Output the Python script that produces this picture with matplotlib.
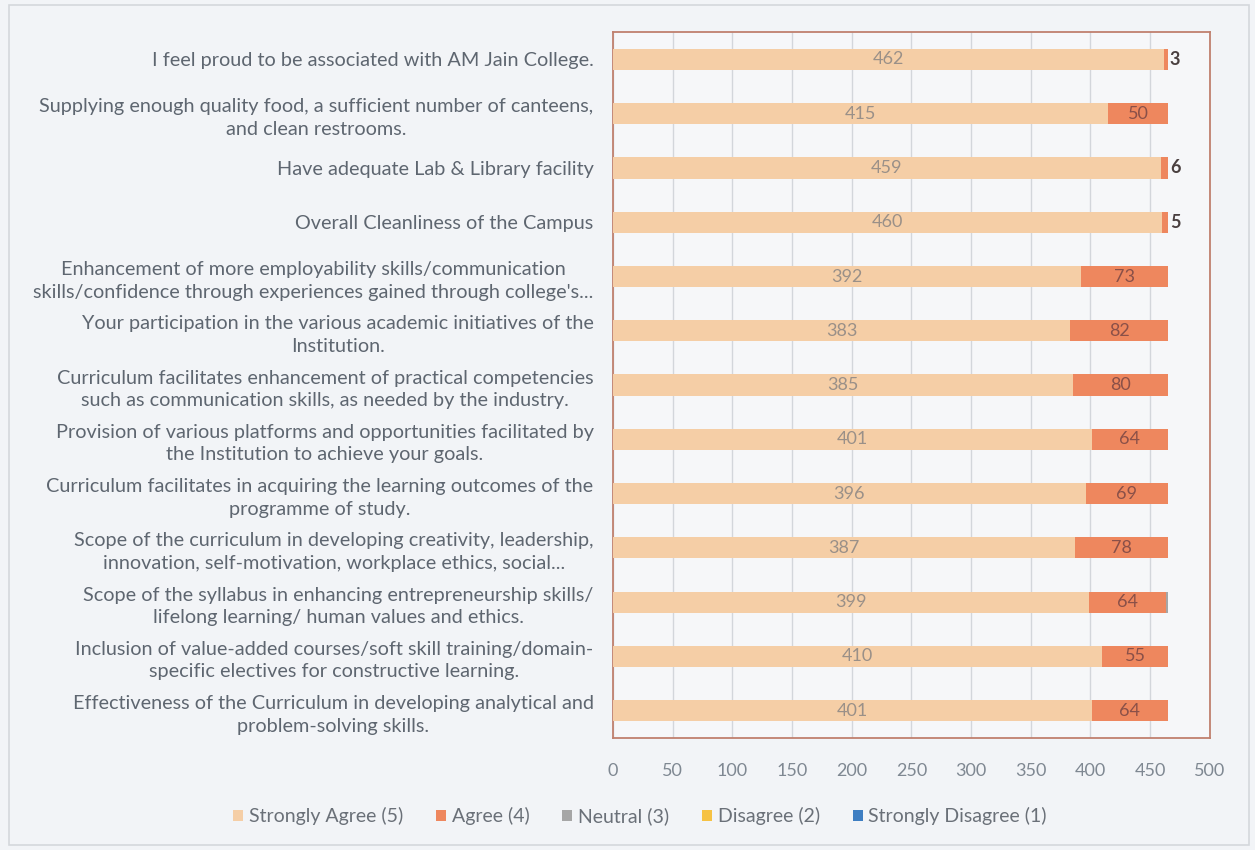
import matplotlib
matplotlib.use("Agg")
import matplotlib.pyplot as plt
from matplotlib.patches import Rectangle
import numpy as np

plt.rcParams['font.family'] = ['Lato', 'DejaVu Sans']

categories = [
    "I feel proud to be associated with AM Jain College.",
    "Supplying enough quality food, a sufficient number of canteens,\nand clean restrooms.",
    "Have adequate Lab & Library facility",
    "Overall Cleanliness of the Campus",
    "Enhancement of more employability skills/communication\nskills/confidence through experiences gained through college's...",
    "Your participation in the various academic initiatives of the\nInstitution.",
    "Curriculum facilitates enhancement of practical competencies\nsuch as communication skills, as needed by the industry.",
    "Provision of various platforms and opportunities facilitated by\nthe Institution to achieve your goals.",
    "Curriculum facilitates in acquiring the learning outcomes of the\nprogramme of study.",
    "Scope of the curriculum in developing creativity, leadership,\ninnovation, self-motivation, workplace ethics, social...",
    "Scope of the syllabus in enhancing entrepreneurship skills/\nlifelong learning/ human values and ethics.",
    "Inclusion of value-added courses/soft skill training/domain-\nspecific electives for constructive learning.",
    "Effectiveness of the Curriculum in developing analytical and\nproblem-solving skills.",
]
strongly_agree = [462, 415, 459, 460, 392, 383, 385, 401, 396, 387, 399, 410, 401]
agree = [3, 50, 6, 5, 73, 82, 80, 64, 69, 78, 64, 55, 64]
neutral = [0, 0, 0, 0, 0, 0, 0, 0, 0, 0, 2, 0, 0]
disagree = [0] * 13
strongly_disagree = [0] * 13
series_names = ["Strongly Agree (5)", "Agree (4)", "Neutral (3)", "Disagree (2)", "Strongly Disagree (1)"]
x_ticks = [0, 50, 100, 150, 200, 250, 300, 350, 400, 450, 500]

colors = ["#F5CEA6", "#EE875E", "#A6A6A6", "#F6C244", "#3E7EC2"]
bg = "#F2F4F7"

fig = plt.figure(figsize=(12.55, 8.5), dpi=100, facecolor=bg)
border = Rectangle((0.007, 0.006), 0.988, 0.988, transform=fig.transFigure,
                   facecolor="none", edgecolor="#D5D8DC", linewidth=1.2, zorder=-10)
fig.add_artist(border)
ax = fig.add_axes([0.4885, 0.132, 0.4755, 0.830])
ax.set_facecolor("#F6F7F9")

y = np.arange(len(categories))
series = [strongly_agree, agree, neutral, disagree, strongly_disagree]
left = np.zeros(len(categories))
h = 0.39
for si, (vals, name, c) in enumerate(zip(series, series_names, colors)):
    vals = np.array(vals, dtype=float)
    ax.barh(y, vals, left=left, height=h, color=c, label=name, zorder=3)
    if si in (0, 1):
        for yi, (l, v) in enumerate(zip(left, vals)):
            if v <= 0:
                continue
            cx = l + v / 2
            if si == 0:
                ax.text(cx, yi, f"{int(v)}", ha="center", va="center", fontsize=13,
                        color="#9A9088", zorder=4)
            else:
                if v < 15:
                    ax.text(l + v + 1.5, yi, f"{int(v)}", ha="left", va="center", fontsize=13,
                            color="#4A4040", fontweight="bold", zorder=4)
                else:
                    ax.text(cx, yi, f"{int(v)}", ha="center", va="center", fontsize=13,
                            color="#8A5048", zorder=4)
    left += vals

ax.set_xlim(0, 500)
ax.set_ylim(len(categories) - 0.5, -0.5)
ax.set_xticks(x_ticks)
ax.set_xticklabels([str(t) for t in x_ticks], fontsize=13, color="#7F8892")
ax.set_yticks(y)
ax.set_yticklabels(categories, fontsize=14.3, color="#5E6670", multialignment="center",
                   linespacing=1.4)
ax.tick_params(axis="both", length=0)
ax.tick_params(axis="x", pad=18)
ax.tick_params(axis="y", pad=14)
ax.grid(axis="x", color="#D3D6DB", linewidth=1.0, zorder=0)
ax.set_axisbelow(True)
for s in ax.spines.values():
    s.set_color("#C0806E")
    s.set_linewidth(1.3)

leg = fig.legend(loc="center", bbox_to_anchor=(0.51, 0.04), ncol=5, frameon=False,
                 fontsize=14, handlelength=0.5, handleheight=0.5, handletextpad=0.3,
                 columnspacing=1.7)
for t in leg.get_texts():
    t.set_color("#6A7078")

fig.savefig("out.png", dpi=100, facecolor=bg)
